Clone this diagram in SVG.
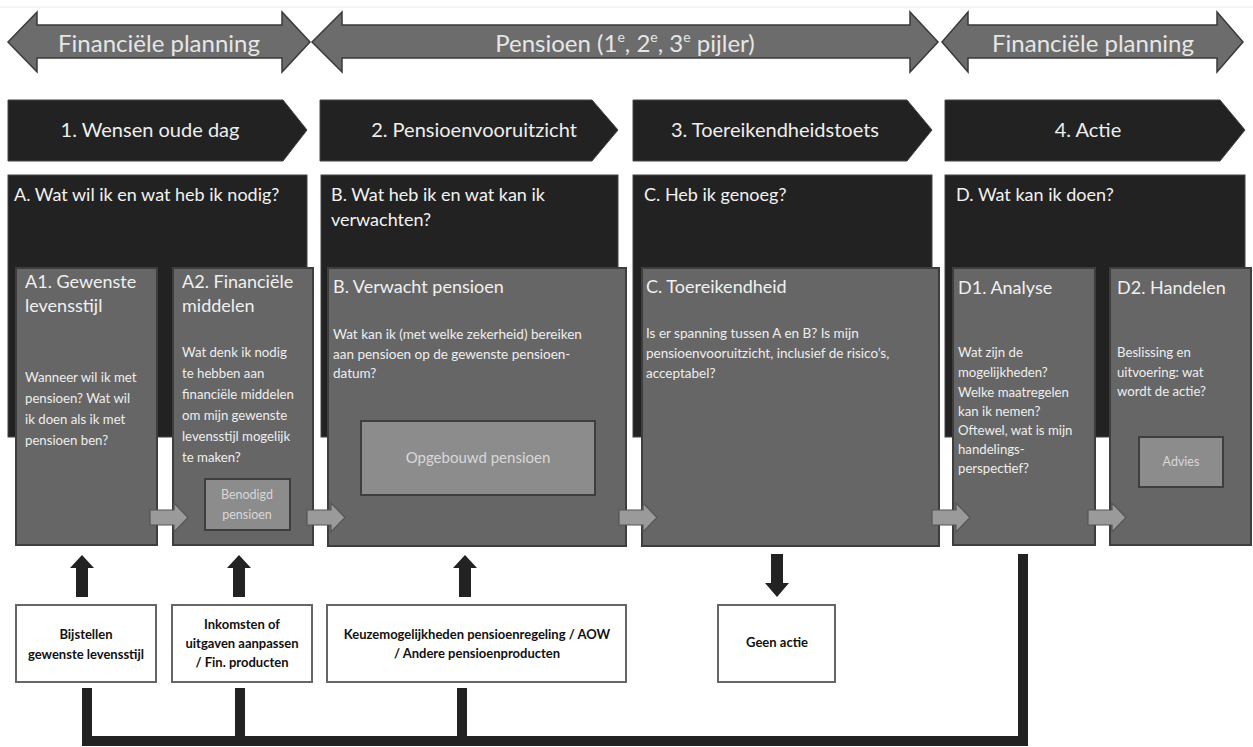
<svg xmlns="http://www.w3.org/2000/svg" width="1253" height="747" viewBox="0 0 1253 747">
<style>
text{font-family:Lato,"Liberation Sans",sans-serif}
.dbl{fill:#6c6c6c;stroke:#3a3a3a;stroke-width:1.5}
.chev{fill:#222;stroke:#444;stroke-width:1}
.blk{fill:#222;stroke:#444;stroke-width:1}
.gry{fill:#666;stroke:#3e3e3e;stroke-width:2}
.inner{fill:#8c8c8c;stroke:#3e3e3e;stroke-width:2}
.wbox{fill:#fff;stroke:#666;stroke-width:2}
.sarr{fill:#9a9a9a;stroke:#555;stroke-width:1.2}
.barr{fill:#222}
.conn{fill:none;stroke:#222;stroke-width:10;stroke-linejoin:miter}
.t-top{fill:#e6e6e6;font-size:24px;text-anchor:middle}
.t-chev{fill:#eee;font-size:20px;text-anchor:middle}
.t-head{fill:#f2f2f2;font-size:18px}
.t-title{fill:#f0f0f0;font-size:18px}
.t-body{fill:#eee;font-size:13.2px}
.t-bodyB{fill:#eee;font-size:13.5px}
.t-inner{fill:#d8d8d8;font-size:12.5px;text-anchor:middle}
.t-bot{fill:#111;font-size:13px;font-weight:bold;text-anchor:middle}
</style>
<line x1="0" y1="7" x2="1253" y2="7" stroke="#ececec" stroke-width="1"/>

<g id="top-fin1">
<polygon class="dbl" points="8,42 37,12 37,25 282,25 282,12 310,42 282,72 282,58 37,58 37,72"/>
<text class="t-top" x="159" y="52">Financiële planning</text>
</g>
<g id="top-pensioen">
<polygon class="dbl" points="312,42 342,12 342,25 910,25 910,12 938,42 910,72 910,58 342,58 342,72"/>
<text class="t-top" x="625" y="52">Pensioen (1<tspan font-size="14" dy="-10">e</tspan><tspan dy="10">, 2</tspan><tspan font-size="14" dy="-10">e</tspan><tspan dy="10">, 3</tspan><tspan font-size="14" dy="-10">e</tspan><tspan dy="10"> pijler)</tspan></text>
</g>
<g id="top-fin2">
<polygon class="dbl" points="942,42 968,12 968,25 1217,25 1217,12 1243,42 1217,72 1217,58 968,58 968,72"/>
<text class="t-top" x="1093" y="52">Financiële planning</text>
</g>

<g id="step1">
<polygon class="chev" points="8,100 283,100 307,130 283,161 8,161"/>
<text class="t-chev" x="150" y="137">1. Wensen oude dag</text>
</g>
<g id="step2">
<polygon class="chev" points="320,100 592,100 618,130 592,161 320,161"/>
<text class="t-chev" x="474" y="137">2. Pensioenvooruitzicht</text>
</g>
<g id="step3">
<polygon class="chev" points="633,100 907,100 932,130 907,161 633,161"/>
<text class="t-chev" x="775" y="137">3. Toereikendheidstoets</text>
</g>
<g id="step4">
<polygon class="chev" points="945,100 1220,100 1245,130 1220,161 945,161"/>
<text class="t-chev" x="1088" y="137">4. Actie</text>
</g>

<g id="A">
<rect class="blk" x="8" y="175" width="299" height="262"/>
<text class="t-head" x="14" y="201">A. Wat wil ik en wat heb ik nodig?</text>
</g>
<g id="B">
<rect class="blk" x="321" y="175" width="297" height="262"/>
<text class="t-head" x="331" y="201">B. Wat heb ik en wat kan ik</text>
<text class="t-head" x="331" y="226">verwachten?</text>
</g>
<g id="C">
<rect class="blk" x="633" y="175" width="299" height="262"/>
<text class="t-head" x="644" y="201">C. Heb ik genoeg?</text>
</g>
<g id="D">
<rect class="blk" x="945" y="175" width="300" height="262"/>
<text class="t-head" x="956" y="201">D. Wat kan ik doen?</text>
</g>

<g id="A1">
<rect class="gry" x="16" y="268" width="141" height="277"/>
<text class="t-title" x="25" y="288">A1. Gewenste</text>
<text class="t-title" x="25" y="312">levensstijl</text>
<text class="t-body" x="25" y="382">Wanneer wil ik met</text>
<text class="t-body" x="25" y="403">pensioen? Wat wil</text>
<text class="t-body" x="25" y="424">ik doen als ik met</text>
<text class="t-body" x="25" y="445">pensioen ben?</text>
</g>
<g id="A2">
<rect class="gry" x="173" y="268" width="140" height="277"/>
<text class="t-title" x="182" y="288">A2. Financiële</text>
<text class="t-title" x="182" y="312">middelen</text>
<text class="t-body" x="182" y="357">Wat denk ik nodig</text>
<text class="t-body" x="182" y="378">te hebben aan</text>
<text class="t-body" x="182" y="399">financiële middelen</text>
<text class="t-body" x="182" y="420">om mijn gewenste</text>
<text class="t-body" x="182" y="441">levensstijl mogelijk</text>
<text class="t-body" x="182" y="462">te maken?</text>
<rect class="inner" x="205" y="479" width="85" height="51"/>
<text class="t-inner" x="247" y="499">Benodigd</text>
<text class="t-inner" x="247" y="519">pensioen</text>
</g>
<g id="B-box">
<rect class="gry" x="328" y="268" width="298" height="278"/>
<text class="t-title" x="333" y="293">B. Verwacht pensioen</text>
<text class="t-bodyB" x="333" y="339">Wat kan ik  (met welke zekerheid) bereiken</text>
<text class="t-bodyB" x="333" y="359">aan pensioen op de gewenste pensioen-</text>
<text class="t-bodyB" x="333" y="378">datum?</text>
<rect class="inner" x="361" y="421" width="234" height="74"/>
<text class="t-inner" x="478" y="463" style="font-size:15px">Opgebouwd pensioen</text>
</g>
<g id="C-box">
<rect class="gry" x="642" y="268" width="297" height="278"/>
<text class="t-title" x="646" y="293">C. Toereikendheid</text>
<text class="t-bodyB" x="646" y="338">Is er spanning tussen A en B? Is mijn</text>
<text class="t-bodyB" x="646" y="358">pensioenvooruitzicht, inclusief de risico’s,</text>
<text class="t-bodyB" x="646" y="378">acceptabel?</text>
</g>
<g id="D1">
<rect class="gry" x="953" y="268" width="142" height="277"/>
<text class="t-title" x="958" y="294">D1. Analyse</text>
<text class="t-body" x="958" y="357">Wat zijn de</text>
<text class="t-body" x="958" y="377">mogelijkheden?</text>
<text class="t-body" x="958" y="397">Welke maatregelen</text>
<text class="t-body" x="958" y="416">kan ik nemen?</text>
<text class="t-body" x="958" y="435">Oftewel, wat is mijn</text>
<text class="t-body" x="958" y="454">handelings-</text>
<text class="t-body" x="958" y="473">perspectief?</text>
</g>
<g id="D2">
<rect class="gry" x="1110" y="268" width="141" height="277"/>
<text class="t-title" x="1117" y="294">D2. Handelen</text>
<text class="t-body" x="1117" y="357">Beslissing en</text>
<text class="t-body" x="1117" y="377">uitvoering: wat</text>
<text class="t-body" x="1117" y="396">wordt de actie?</text>
<rect class="inner" x="1139" y="437" width="84" height="50"/>
<text class="t-inner" x="1181" y="466">Advies</text>
</g>

<g id="bot-bijstellen">
<rect class="wbox" x="16" y="605" width="140" height="77"/>
<text class="t-bot" x="86" y="639">Bijstellen</text>
<text class="t-bot" x="86" y="659">gewenste levensstijl</text>
</g>
<g id="bot-inkomsten">
<rect class="wbox" x="172" y="605" width="140" height="77"/>
<text class="t-bot" x="242" y="629">Inkomsten of</text>
<text class="t-bot" x="242" y="648">uitgaven aanpassen</text>
<text class="t-bot" x="242" y="667">/ Fin. producten</text>
</g>
<g id="bot-keuze">
<rect class="wbox" x="327" y="605" width="299" height="77"/>
<text class="t-bot" x="477" y="639">Keuzemogelijkheden pensioenregeling / AOW</text>
<text class="t-bot" x="477" y="658">/ Andere pensioenproducten</text>
</g>
<g id="bot-geen">
<rect class="wbox" x="718" y="605" width="117" height="77"/>
<text class="t-bot" x="777" y="647">Geen actie</text>
</g>

<g id="connectors">
<g id="small-arrows">
<polygon class="sarr" points="150,510 174,510 174,503 188,517.5 174,532 174,525 150,525"/>
<polygon class="sarr" points="307,510 331,510 331,503 345,517.5 331,532 331,525 307,525"/>
<polygon class="sarr" points="619,510 643,510 643,503 657,517.5 643,532 643,525 619,525"/>
<polygon class="sarr" points="932,510 956,510 956,503 970,517.5 956,532 956,525 932,525"/>
<polygon class="sarr" points="1088,510 1112,510 1112,503 1126,517.5 1112,532 1112,525 1088,525"/>
</g>
<polygon class="barr" points="82,555 94,568 88,568 88,597 76,597 76,568 70,568"/>
<polygon class="barr" points="239,555 251,568 245,568 245,597 233,597 233,568 227,568"/>
<polygon class="barr" points="465,555 477,568 471,568 471,597 459,597 459,568 453,568"/>
<polygon class="barr" points="771,554 783,554 783,583 789,583 777,597 765,583 771,583"/>
<polyline class="conn" points="87,688 87,741 1023,741 1023,554"/>
<line class="conn" x1="240" y1="688" x2="240" y2="741"/>
<line class="conn" x1="462" y1="688" x2="462" y2="741"/>
</g>
</svg>
